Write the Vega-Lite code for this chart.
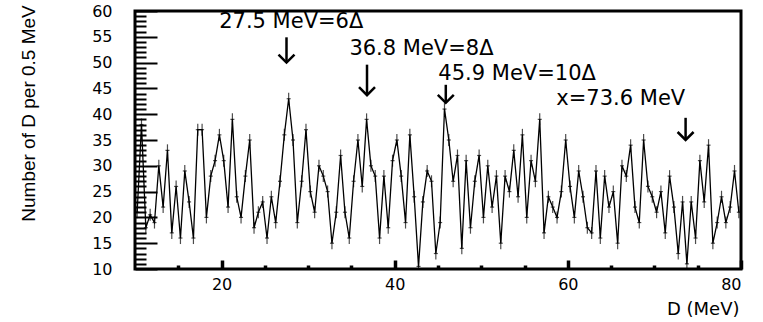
{
  "$schema": "https://vega.github.io/schema/vega-lite/v6.json",
  "width": 606,
  "height": 258,
  "autosize": {"type": "none"},
  "padding": {"left": 135, "top": 11, "right": 22, "bottom": 53},
  "config": {
    "view": {"stroke": "black", "strokeWidth": 3},
    "font": "DejaVu Sans",
    "axis": {"domain": false, "grid": false, "tickColor": "black", "labelColor": "black", "titleColor": "black"}
  },
  "datasets": {
    "hist": [
      {"D": 10.25, "N": 21}, {"D": 10.75, "N": 38}, {"D": 11.25, "N": 18}, {"D": 11.75, "N": 20.5},
      {"D": 12.25, "N": 19}, {"D": 12.75, "N": 30}, {"D": 13.25, "N": 22}, {"D": 13.75, "N": 33},
      {"D": 14.25, "N": 17}, {"D": 14.75, "N": 26}, {"D": 15.25, "N": 16}, {"D": 15.75, "N": 29},
      {"D": 16.25, "N": 23}, {"D": 16.75, "N": 16}, {"D": 17.25, "N": 37}, {"D": 17.75, "N": 37},
      {"D": 18.25, "N": 20}, {"D": 18.75, "N": 28}, {"D": 19.25, "N": 31}, {"D": 19.75, "N": 36},
      {"D": 20.25, "N": 31}, {"D": 20.75, "N": 22}, {"D": 21.25, "N": 39}, {"D": 21.75, "N": 24},
      {"D": 22.25, "N": 20}, {"D": 22.75, "N": 28}, {"D": 23.25, "N": 35}, {"D": 23.75, "N": 18},
      {"D": 24.25, "N": 21}, {"D": 24.75, "N": 23}, {"D": 25.25, "N": 16}, {"D": 25.75, "N": 24},
      {"D": 26.25, "N": 19}, {"D": 26.75, "N": 27}, {"D": 27.25, "N": 36}, {"D": 27.75, "N": 43},
      {"D": 28.25, "N": 35}, {"D": 28.75, "N": 19}, {"D": 29.25, "N": 27}, {"D": 29.75, "N": 37},
      {"D": 30.25, "N": 25}, {"D": 30.75, "N": 21}, {"D": 31.25, "N": 30}, {"D": 31.75, "N": 28},
      {"D": 32.25, "N": 25}, {"D": 32.75, "N": 15}, {"D": 33.25, "N": 21}, {"D": 33.75, "N": 32},
      {"D": 34.25, "N": 21}, {"D": 34.75, "N": 16}, {"D": 35.25, "N": 27}, {"D": 35.75, "N": 35},
      {"D": 36.25, "N": 26}, {"D": 36.75, "N": 39}, {"D": 37.25, "N": 30}, {"D": 37.75, "N": 28},
      {"D": 38.25, "N": 16}, {"D": 38.75, "N": 28}, {"D": 39.25, "N": 18}, {"D": 39.75, "N": 31},
      {"D": 40.25, "N": 35}, {"D": 40.75, "N": 28}, {"D": 41.25, "N": 19}, {"D": 41.75, "N": 36},
      {"D": 42.25, "N": 24}, {"D": 42.75, "N": 10.5}, {"D": 43.25, "N": 23}, {"D": 43.75, "N": 29},
      {"D": 44.25, "N": 27}, {"D": 44.75, "N": 13}, {"D": 45.25, "N": 19}, {"D": 45.75, "N": 41},
      {"D": 46.25, "N": 35}, {"D": 46.75, "N": 27}, {"D": 47.25, "N": 32}, {"D": 47.75, "N": 14},
      {"D": 48.25, "N": 31}, {"D": 48.75, "N": 18}, {"D": 49.25, "N": 27}, {"D": 49.75, "N": 32},
      {"D": 50.25, "N": 20}, {"D": 50.75, "N": 30}, {"D": 51.25, "N": 22}, {"D": 51.75, "N": 28},
      {"D": 52.25, "N": 15}, {"D": 52.75, "N": 28}, {"D": 53.25, "N": 25}, {"D": 53.75, "N": 33},
      {"D": 54.25, "N": 24}, {"D": 54.75, "N": 36}, {"D": 55.25, "N": 20}, {"D": 55.75, "N": 31},
      {"D": 56.25, "N": 27}, {"D": 56.75, "N": 39}, {"D": 57.25, "N": 17}, {"D": 57.75, "N": 24},
      {"D": 58.25, "N": 22}, {"D": 58.75, "N": 20}, {"D": 59.25, "N": 25}, {"D": 59.75, "N": 35},
      {"D": 60.25, "N": 26}, {"D": 60.75, "N": 20}, {"D": 61.25, "N": 29}, {"D": 61.75, "N": 24},
      {"D": 62.25, "N": 18}, {"D": 62.75, "N": 17}, {"D": 63.25, "N": 29}, {"D": 63.75, "N": 16},
      {"D": 64.25, "N": 28}, {"D": 64.75, "N": 22}, {"D": 65.25, "N": 25}, {"D": 65.75, "N": 15},
      {"D": 66.25, "N": 30}, {"D": 66.75, "N": 28}, {"D": 67.25, "N": 34}, {"D": 67.75, "N": 22},
      {"D": 68.25, "N": 19}, {"D": 68.75, "N": 35}, {"D": 69.25, "N": 26}, {"D": 69.75, "N": 24},
      {"D": 70.25, "N": 21}, {"D": 70.75, "N": 25}, {"D": 71.25, "N": 17}, {"D": 71.75, "N": 28},
      {"D": 72.25, "N": 22}, {"D": 72.75, "N": 13}, {"D": 73.25, "N": 23}, {"D": 73.75, "N": 11},
      {"D": 74.25, "N": 23}, {"D": 74.75, "N": 16}, {"D": 75.25, "N": 31}, {"D": 75.75, "N": 23},
      {"D": 76.25, "N": 34}, {"D": 76.75, "N": 15}, {"D": 77.25, "N": 19}, {"D": 77.75, "N": 24},
      {"D": 78.25, "N": 19}, {"D": 78.75, "N": 22}, {"D": 79.25, "N": 29}, {"D": 79.75, "N": 21}
    ],
    "notes": [
      {"label": "27.5 MeV=6Δ", "tx": 28.05, "ty": 56.65, "ax": 27.5, "atop": 54.9, "atip": 50.0},
      {"label": "36.8 MeV=8Δ", "tx": 43.09, "ty": 51.47, "ax": 36.8, "atop": 49.6, "atip": 43.7},
      {"label": "45.9 MeV=10Δ", "tx": 54.14, "ty": 46.6, "ax": 45.9, "atop": 45.7, "atip": 42.2},
      {"label": "x=73.6 MeV", "tx": 66.11, "ty": 41.8, "ax": 73.6, "atop": 39.3, "atip": 35.0}
    ]
  },
  "resolve": {"axis": {"x": "independent", "y": "independent"}},
  "layer": [
    {
      "data": {"name": "hist"},
      "mark": {"type": "line", "color": "black", "strokeWidth": 1.3, "clip": true},
      "encoding": {
        "x": {"field": "D", "type": "quantitative",
          "scale": {"domain": [10, 80], "nice": false, "zero": false},
          "axis": {"orient": "bottom", "values": [20, 40, 60, 80], "tickSize": -9, "tickWidth": 3.5,
            "labelPadding": 16, "labelFontSize": 16, "labelFont": "DejaVu Sans",
            "title": "D (MeV)", "titleFontSize": 18, "titleFont": "DejaVu Sans", "titleFontWeight": "normal",
            "titleAnchor": "end", "titleAlign": "right", "titleX": 604, "titleY": 45, "titleBaseline": "alphabetic"}},
        "y": {"field": "N", "type": "quantitative",
          "scale": {"domain": [10, 60], "nice": false, "zero": false},
          "axis": {"orient": "left", "values": [10, 15, 20, 25, 30, 35, 40, 45, 50, 55, 60], "tickSize": -22, "tickWidth": 2,
            "labelPadding": 45, "labelFontSize": 16, "labelFont": "DejaVu Sans", "labelBaseline": "middle",
            "title": "Number of D per 0.5 MeV", "titleFont": "Liberation Sans",
            "titleFontSize": 19, "titleFontWeight": "normal", "titleX": -101, "titleY": 102,
            "titleAngle": -90, "titleAlign": "center", "titleBaseline": "alphabetic"}}
      }
    },
    {
      "data": {"name": "hist"},
      "mark": {"type": "point", "opacity": 0},
      "encoding": {
        "x": {"field": "D", "type": "quantitative",
          "axis": {"orient": "bottom", "values": [15, 25, 30, 35, 45, 50, 55, 65, 70, 75], "tickSize": -4, "tickWidth": 3.5,
            "labels": false, "title": null}},
        "y": {"field": "N", "type": "quantitative",
          "axis": {"orient": "left", "values": [11,12,13,14,16,17,18,19,21,22,23,24,26,27,28,29,31,32,33,34,36,37,38,39,41,42,43,44,46,47,48,49,51,52,53,54,56,57,58,59],
            "tickSize": -11, "tickWidth": 2, "labels": false, "title": null}}
      }
    },
    {
      "data": {"name": "hist"},
      "mark": {"type": "tick", "orient": "vertical", "size": 12, "thickness": 1.2, "color": "black", "clip": true},
      "encoding": {
        "x": {"field": "D", "type": "quantitative", "axis": null},
        "y": {"field": "N", "type": "quantitative", "axis": null}
      }
    },
    {
      "data": {"name": "hist"},
      "mark": {"type": "tick", "orient": "horizontal", "size": 4, "thickness": 1.2, "color": "black", "clip": true},
      "encoding": {
        "x": {"field": "D", "type": "quantitative", "axis": null},
        "y": {"field": "N", "type": "quantitative", "axis": null}
      }
    },
    {
      "data": {"name": "notes"},
      "mark": {"type": "text", "align": "center", "baseline": "alphabetic", "fontSize": 21, "font": "DejaVu Sans", "color": "black"},
      "encoding": {
        "x": {"field": "tx", "type": "quantitative", "axis": null},
        "y": {"field": "ty", "type": "quantitative", "axis": null},
        "text": {"field": "label"}
      }
    },
    {
      "data": {"name": "notes"},
      "mark": {"type": "rule", "color": "black", "strokeWidth": 2.5},
      "encoding": {
        "x": {"field": "ax", "type": "quantitative", "axis": null},
        "y": {"field": "atop", "type": "quantitative", "axis": null},
        "y2": {"field": "atip"}
      }
    },
    {
      "data": {"name": "notes"},
      "mark": {"type": "point", "shape": "M-1,-1L0,0L1,-1", "filled": false, "color": "black", "strokeWidth": 2.5, "size": 256, "opacity": 1},
      "encoding": {
        "x": {"field": "ax", "type": "quantitative", "axis": null},
        "y": {"field": "atip", "type": "quantitative", "axis": null}
      }
    }
  ]
}
